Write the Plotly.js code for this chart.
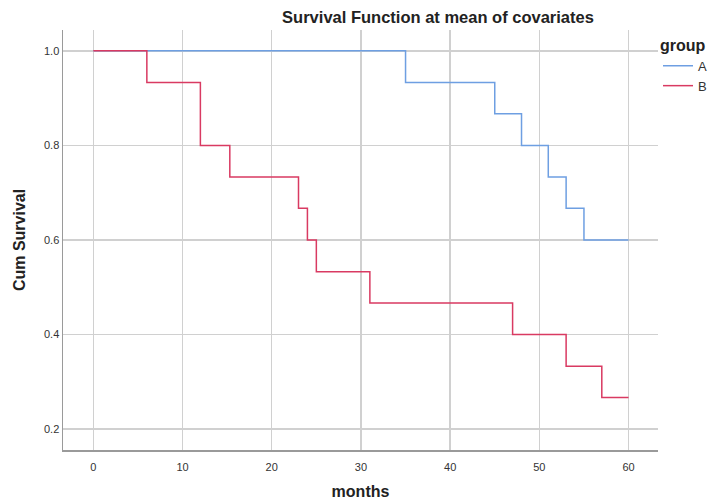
<!DOCTYPE html>
<html>
<head>
<meta charset="utf-8">
<script src="https://cdn.plot.ly/plotly-3.0.1.min.js"></script>
<style>html,body{margin:0;padding:0;background:#fff;}#chart{width:714px;height:502px;}</style>
</head>
<body>
<div id="chart"></div>
<script>
const groupNames = ["A", "B"];
const timesA = [0, 35, 45, 48, 51, 53, 55, 60];
const survA = [1.0, 0.933, 0.867, 0.8, 0.733, 0.667, 0.6, 0.6];
const timesB = [0, 6, 12, 15.3, 23, 24, 25, 31, 47, 53, 57, 60];
const survB = [1.0, 0.933, 0.8, 0.733, 0.667, 0.6, 0.533, 0.467, 0.4, 0.333, 0.267, 0.267];
const xTicks = [0, 10, 20, 30, 40, 50, 60];
const yTicks = [0.2, 0.4, 0.6, 0.8, 1.0];
const yTickLabels = ["0.2", "0.4", "0.6", "0.8", "1.0"];

const font = "Liberation Sans, Arial, sans-serif";
const traces = [
  {x: timesA, y: survA, name: groupNames[0], mode: "lines", line: {shape: "hv", color: "#6e9fe2", width: 1.5}},
  {x: timesB, y: survB, name: groupNames[1], mode: "lines", line: {shape: "hv", color: "#d93a62", width: 1.5}}
];
const layout = {
  width: 714, height: 502,
  margin: {l: 63, r: 56, t: 30, b: 52, autoexpand: false},
  paper_bgcolor: "#fff", plot_bgcolor: "#fff",
  font: {family: font, color: "#222"},
  title: {text: "<b>Survival Function at mean of covariates</b>", font: {size: 16.5, family: font, color: "#222"},
          x: 438, xref: "container", xanchor: "center", y: 0.966, yref: "container", yanchor: "middle"},
  xaxis: {range: [-3.4, 63.3], tickvals: xTicks, ticktext: xTicks.map(String), showgrid: true,
          gridcolor: "#d0d0d0", gridwidth: 1.5, zeroline: false, showline: true, linecolor: "#9a9a9a", linewidth: 1.5,
          ticks: "", tickfont: {size: 11, color: "#333"}, ticklabelstandoff: 6, automargin: false,
          title: {text: "<b>months</b>", font: {size: 16, color: "#222"}, standoff: 14}},
  yaxis: {range: [0.156, 1.044], tickvals: yTicks, ticktext: yTickLabels, showgrid: true,
          gridcolor: "#d0d0d0", gridwidth: 1.5, zeroline: false, showline: true, linecolor: "#9a9a9a", linewidth: 1.5,
          ticks: "", tickfont: {size: 11, color: "#333"}, automargin: false,
          title: {text: "<b>Cum Survival</b>", font: {size: 16, color: "#222"}, standoff: 14}},
  legend: {x: 1.0, xanchor: "left", y: 1.0, yanchor: "top", bgcolor: "rgba(0,0,0,0)",
           title: {text: "<b>group</b>", font: {size: 16, color: "#222"}},
           font: {size: 13, color: "#333"}, tracegroupgap: 0, itemwidth: 30},
  showlegend: true
};
layout.title.x = (438) / 714;
Plotly.newPlot("chart", traces, layout, {displayModeBar: false, staticPlot: true});
</script>
</body>
</html>
